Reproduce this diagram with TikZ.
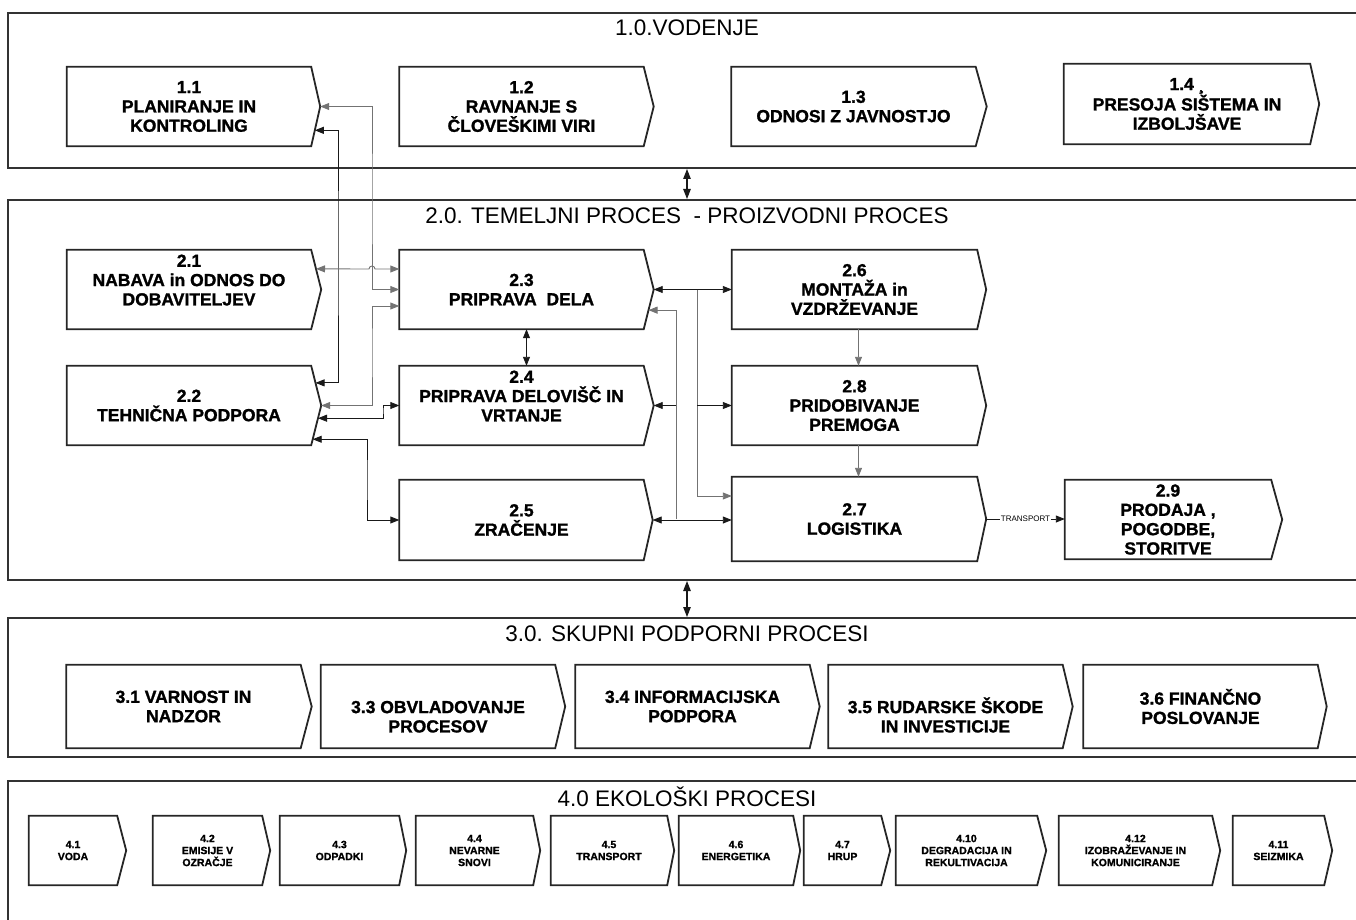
\documentclass[tikz,border=0pt]{standalone}
\usepackage{fontspec}
\setmainfont{Liberation Sans}[BoldFeatures={FakeBold=1.3}]
\usetikzlibrary{arrows.meta,calc}

\begin{document}
\begin{tikzpicture}[x=1pt,y=-1pt,
	panel/.style={draw=black!80, line width=2pt, inner sep=0pt},
	ptitle/.style={inner sep=0pt, font=\fontsize{22.5}{24}\selectfont},
	box/.style={inner sep=0pt, align=center, font=\fontsize{17.5}{19.3}\selectfont\bfseries},
	corebox/.style={minimum width=244pt, minimum height=79pt},
	supbox/.style={minimum width=234pt, minimum height=83pt},
	ecobox/.style={inner sep=0pt, align=center, minimum height=69pt, font=\fontsize{10.5}{12}\selectfont\bfseries},
	chevline/.style={draw=black!85, line width=1.8pt},
	link/.style={draw=black!90, line width=0.9pt},
	faint/.style={draw=black!55},
	arr/.style={link, -{Triangle[length=9pt,width=7pt]}},
	dbl/.style={link, {Triangle[length=9pt,width=7pt]}-{Triangle[length=9pt,width=7pt]}},
	bigdbl/.style={link, line width=1.1pt, {Triangle[length=10pt,width=7.5pt]}-{Triangle[length=10pt,width=7.5pt]}},
	tlabel/.style={fill=white, inner sep=0.6pt, font=\fontsize{8}{8}\selectfont}]
	\useasboundingbox (0,0) rectangle (1356,920);

	% the four process panels
	\node[panel, minimum width=1358pt, minimum height=155pt] (p1) at (687,90.5) {};
	\node[panel, minimum width=1358pt, minimum height=380pt] (p2) at (687,390) {};
	\node[panel, minimum width=1358pt, minimum height=139pt] (p3) at (687,687.5) {};
	\node[panel, minimum width=1358pt, minimum height=159pt] (p4) at (687,860.5) {};
	\node[ptitle] at ([yshift=-16pt]p1.north) {1.0.VODENJE};
	\node[ptitle] at ([yshift=-17pt]p2.north) {2.0. TEMELJNI PROCES\ \ - PROIZVODNI PROCES};
	\node[ptitle] at ([yshift=-17pt]p3.north) {3.0. SKUPNI PODPORNI PROCESI};
	\node[ptitle] at ([yshift=-17pt]p4.north) {4.0 EKOLOŠKI PROCESI};
	\draw[bigdbl] (p1.south) -- (p2.north);
	\draw[bigdbl] (p2.south) -- (p3.north);

	% 1.0
	\node[box, corebox] (b11) at (189,106.5) {1.1\\PLANIRANJE IN\\KONTROLING};
	\node[box, corebox] (b12) at (521.5,106.5) {1.2\\RAVNANJE S\\ČLOVEŠKIMI VIRI};
	\node[box, corebox] (b13) at (853.5,106.5) {1.3\\ODNOSI Z JAVNOSTJO};
	\node[box, corebox, minimum width=246pt, minimum height=80pt] (b14) at (1187,104) {1.4 ¸\\PRESOJA SIŠTEMA IN\\IZBOLJŠAVE};

	% 2.0
	\node[box, corebox, text depth=19pt] (b21) at (189,289.5) {2.1\\NABAVA in ODNOS DO\\DOBAVITELJEV};
	\node[box, corebox] (b23) at (521.5,289.5) {2.3\\PRIPRAVA\ \ DELA};
	\node[box, corebox, minimum width=245pt] (b26) at (854.5,289.5) {2.6\\MONTAŽA in\\VZDRŽEVANJE};
	\node[box, corebox] (b22) at (189,405.5) {2.2\\TEHNIČNA PODPORA};
	\node[box, corebox, text depth=19pt] (b24) at (521.5,405.5) {2.4\\PRIPRAVA DELOVIŠČ IN\\VRTANJE};
	\node[box, corebox, minimum width=245pt] (b28) at (854.5,405.5) {2.8\\PRIDOBIVANJE\\PREMOGA};
	\node[box, corebox, minimum height=80pt] (b25) at (521.5,520) {2.5\\ZRAČENJE};
	\node[box, corebox, minimum width=245pt, minimum height=84pt] (b27) at (854.5,519) {2.7\\LOGISTIKA};
	\node[box, corebox, minimum width=206pt] (b29) at (1168,519.5) {2.9\\PRODAJA ,\\POGODBE,\\STORITVE};

	% 3.0
	\node[box, supbox] (c31) at (183.5,706.5) {3.1 VARNOST IN\\NADZOR};
	\node[box, supbox, text height=52pt] (c33) at (438,706.5) {3.3 OBVLADOVANJE\\PROCESOV};
	\node[box, supbox] (c34) at (692.5,706.5) {3.4 INFORMACIJSKA\\PODPORA};
	\node[box, supbox, text height=52pt] (c35) at (945.5,706.5) {3.5 RUDARSKE ŠKODE\\IN INVESTICIJE};
	\node[box, supbox] (c36) at (1200.5,706.5) {3.6 FINANČNO\\POSLOVANJE};

	% 4.0
	\foreach \n/\x/\w/\t in {d41/73/88/{4.1\\VODA}, d42/207.5/109/{4.2\\EMISIJE V\\OZRAČJE},
			d43/339.5/119/{4.3\\ODPADKI}, d44/474.5/117/{4.4\\NEVARNE\\SNOVI},
			d45/609/116/{4.5\\TRANSPORT}, d46/736/114/{4.6\\ENERGETIKA}, d47/842.5/77/{4.7\\HRUP},
			d410/966.5/141/{4.10\\DEGRADACIJA IN\\REKULTIVACIJA},
			d412/1135.5/153/{4.12\\IZOBRAŽEVANJE IN\\KOMUNICIRANJE}, d411/1278.5/91/{4.11\\SEIZMIKA}}
		\node[ecobox, minimum width=\w pt] (\n) at (\x,850.5) {\t};

	% chevron outlines
	\foreach \n/\d in {b11/9, b12/10, b13/11, b14/9, b21/10, b23/10, b26/9, b22/10, b24/10,
			b28/9, b25/9, b27/9, b29/11, c31/11, c33/10, c34/10, c35/10, c36/9,
			d41/9, d42/8, d43/7, d44/7, d45/7, d46/7, d47/9, d410/9, d412/8, d411/8}
		\draw[chevline] (\n.north west) -- (\n.north east) -- ([xshift=\d pt]\n.east) coordinate (\n-t)
			-- (\n.south east) -- (\n.south west) -- cycle;

	% links, left part
	\draw[dbl, faint] (b11-t) -| (372,200) |- (b23.west);
	\draw[dbl] ($(b11.south east)!.4!(b11-t)$) -| (338,250) |- ($(b22.north east)!.43!(b22-t)$);
	\draw[dbl, faint] ($(b21.north east)!.48!(b21-t)$) -- (369,269)
		arc[start angle=180, end angle=360, radius=3] -- (b23.west |- 0,269);
	\draw[dbl, faint] (b22-t) -| (372,350) |- ($(b23.west)+(0,16.5)$);
	\draw[dbl] ($(b22.south east)!.68!(b22-t)$) -| (383,410) |- (b24.west);
	\draw[dbl] ($(b22.south east)!.15!(b22-t)$) -| (367,480) |- (b25.west);
	\draw[dbl] ([xshift=5pt]b23.south) -- ([xshift=5pt]b24.north);

	% links, right part
	\draw[dbl] (b23-t) -- (b26.west);
	\draw[arr, faint] (b26.west -| 697,0) |- ($(b27.west)+(0,-23)$);
	\draw[arr] (b28.west -| 697,0) -- (b28.west);
	\draw[arr, faint] (b27.west -| 676,0) |- ($(b23.south east)!.48!(b23-t)$);
	\draw[arr] (b24-t -| 676,0) -- (b24-t);
	\draw[dbl] (b25-t) -- (b25-t -| b27.west);
	\draw[arr, faint] ([xshift=4pt]b26.south) -- ([xshift=4pt]b28.north);
	\draw[arr, faint] ([xshift=4pt]b28.south) -- ([xshift=4pt]b27.north);
	\draw[arr] (b27-t) -- node[tlabel] {TRANSPORT} (b27-t -| b29.west);
\end{tikzpicture}
\end{document}
